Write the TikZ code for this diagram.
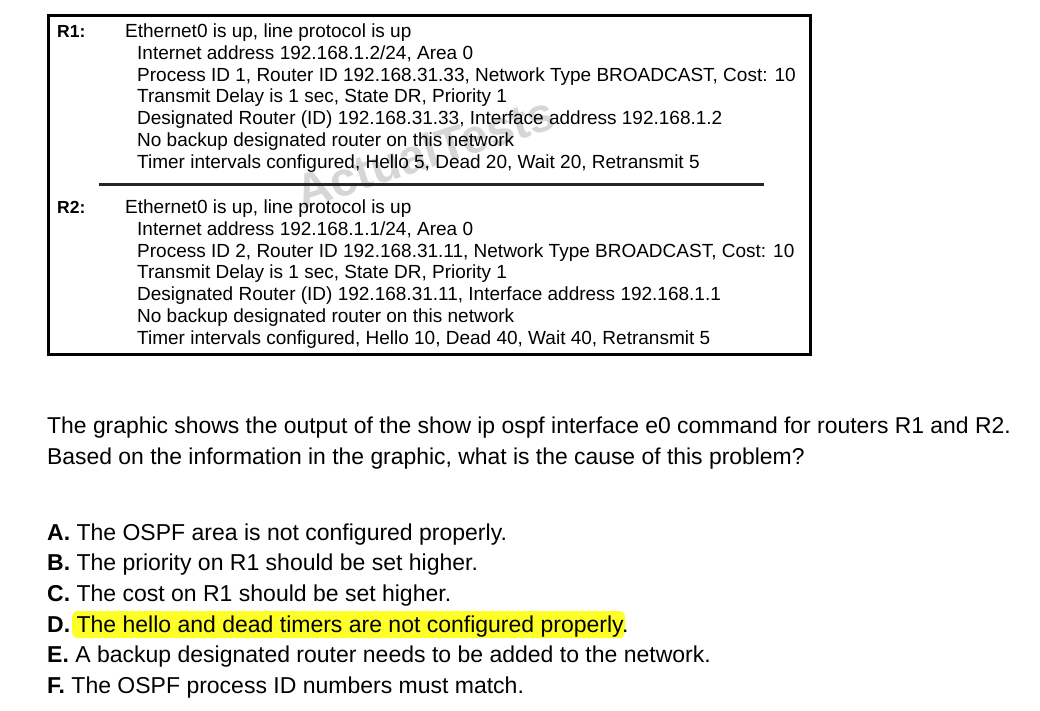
\documentclass[tikz,border=0pt]{standalone}
\usepackage{fontspec}
\setmainfont{Liberation Sans}
\definecolor{hl}{RGB}{255,255,40}
\definecolor{wmgray}{RGB}{214,214,214}
\begin{document}
\begin{tikzpicture}[x=1pt,y=-1pt,
  term/.style={anchor=base west,inner sep=0pt,font=\fontsize{19}{22}\selectfont},
  rlabel/.style={anchor=base west,inner sep=0pt,font=\fontsize{17.5}{20}\selectfont\bfseries},
  qtext/.style={anchor=base west,inner sep=0pt,font=\fontsize{22.9}{27}\selectfont},
  atext/.style={anchor=base west,inner sep=0pt,font=\fontsize{23}{27}\selectfont},
  wm/.style={inner sep=0pt,text=wmgray,font=\fontsize{48}{50}\selectfont\bfseries}]
\useasboundingbox (0,0) rectangle (1040,711);
\fill[white] (0,0) rectangle (1040,711);
% watermark
\node[wm,rotate=18] (wm) at (425,152) {ActualTests};
% output box
\draw[line width=3pt] (48.5,15.5) rectangle (810,354);
\draw[line width=2.5pt,black!85] (99,184.5) -- (764,184.5);
% R1
\node[rlabel] (r1) at (57,37.5) {R1:};
\node[term] (r1l1) at (125,37.5) {Ethernet0 is up, line protocol is up};
\node[term] (r1l2) at (137,59.3) {Internet address 192.168.1.2/24, Area 0};
\node[term] (r1l3) at (137,81.1) {Process ID 1, Router ID 192.168.31.33, Network Type BROADCAST, Cost: 10};
\node[term] (r1l4) at (137,102.9) {Transmit Delay is 1 sec, State DR, Priority 1};
\node[term] (r1l5) at (137,124.7) {Designated Router (ID) 192.168.31.33, Interface address 192.168.1.2};
\node[term] (r1l6) at (137,146.5) {No backup designated router on this network};
\node[term] (r1l7) at (137,168.3) {Timer intervals configured, Hello 5, Dead 20, Wait 20, Retransmit 5};
% R2
\node[rlabel] (r2) at (57,213.5) {R2:};
\node[term] (r2l1) at (125,213.5) {Ethernet0 is up, line protocol is up};
\node[term] (r2l2) at (137,235.3) {Internet address 192.168.1.1/24, Area 0};
\node[term] (r2l3) at (137,257.1) {Process ID 2, Router ID 192.168.31.11, Network Type BROADCAST, Cost: 10};
\node[term] (r2l4) at (137,278.9) {Transmit Delay is 1 sec, State DR, Priority 1};
\node[term] (r2l5) at (137,300.7) {Designated Router (ID) 192.168.31.11, Interface address 192.168.1.1};
\node[term] (r2l6) at (137,322.5) {No backup designated router on this network};
\node[term] (r2l7) at (137,344.3) {Timer intervals configured, Hello 10, Dead 40, Wait 40, Retransmit 5};
% question
\node[qtext] (q1) at (47,433) {The graphic shows the output of the show ip ospf interface e0 command for routers R1 and R2.};
\node[qtext] (q2) at (47,464) {Based on the information in the graphic, what is the cause of this problem?};
% highlight
\fill[hl,rounded corners=6pt] (72,611) rectangle (625,638);
% answers
\node[atext] (a) at (47,540) {\textbf{A.} The OSPF area is not configured properly.};
\node[atext] (b) at (47,570.7) {\textbf{B.} The priority on R1 should be set higher.};
\node[atext] (c) at (47,601.4) {\textbf{C.} The cost on R1 should be set higher.};
\node[atext] (d) at (47,632.1) {\textbf{D.} The hello and dead timers are not configured properly.};
\node[atext] (e) at (47,662.8) {\textbf{E.} A backup designated router needs to be added to the network.};
\node[atext] (f) at (47,693.5) {\textbf{F.} The OSPF process ID numbers must match.};
\end{tikzpicture}
\end{document}
